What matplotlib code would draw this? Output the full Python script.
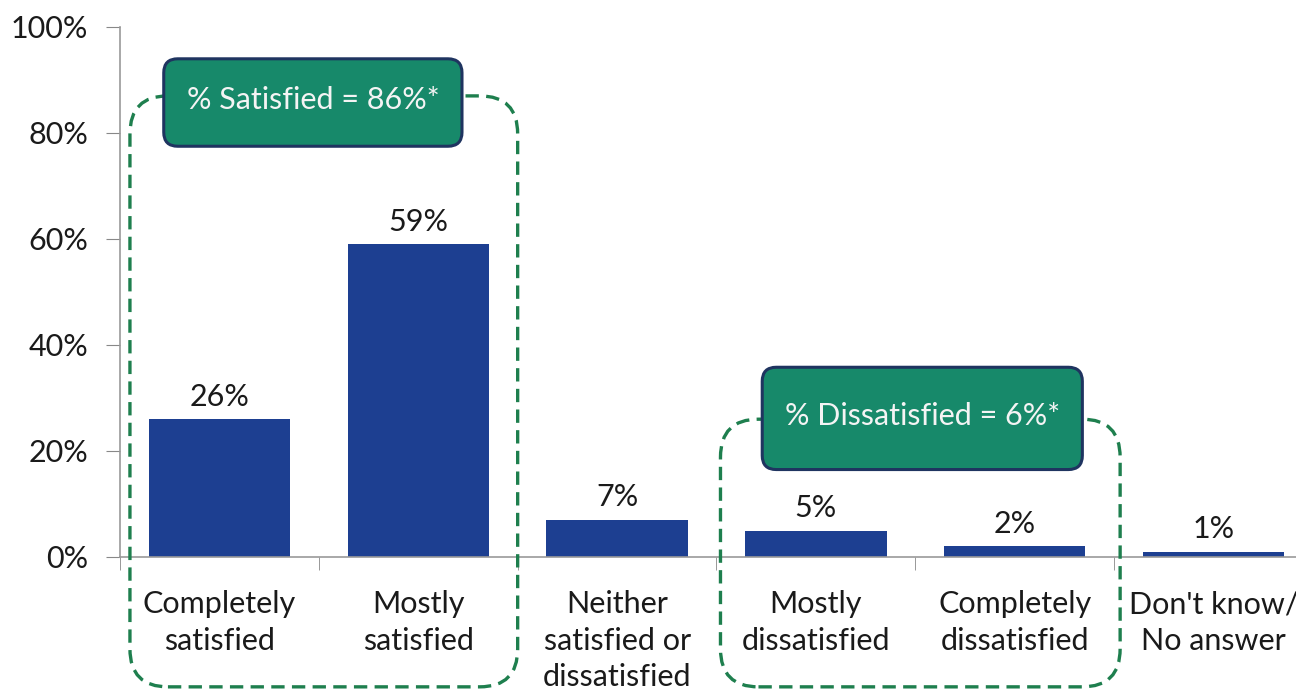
import matplotlib
matplotlib.use("Agg")
import matplotlib.pyplot as plt
from matplotlib.patches import FancyBboxPatch
from matplotlib.ticker import FixedLocator, NullFormatter

categories = ["Completely\nsatisfied", "Mostly\nsatisfied", "Neither\nsatisfied or\ndissatisfied",
              "Mostly\ndissatisfied", "Completely\ndissatisfied", "Don't know/\nNo answer"]
values = [26, 59, 7, 5, 2, 1]
value_labels = ["26%", "59%", "7%", "5%", "2%", "1%"]
yticks = [0, 20, 40, 60, 80, 100]
ytick_labels = ["0%", "20%", "40%", "60%", "80%", "100%"]
group_labels = ["% Satisfied = 86%*", "% Dissatisfied = 6%*"]

plt.rcParams['font.family'] = ['Lato', 'DejaVu Sans']

W, H = 1296, 694
fig = plt.figure(figsize=(W / 100, H / 100), dpi=100)
fig.patch.set_facecolor("white")
ax = fig.add_axes([120 / W, (H - 557) / H, 1193 / W, 530 / H])

x = list(range(len(categories)))
bar_color = "#1D3F91"
txt = "#1A1A1A"
ax.bar(x, values, width=0.71, color=bar_color, zorder=2)
ax.set_xlim(-0.5, len(categories) - 0.5)
ax.set_ylim(0, 100)

for xi, v, lab in zip(x, values, value_labels):
    ax.text(xi, v + 1.6, lab, ha="center", va="bottom", fontsize=22, color=txt)

ax.set_yticks(yticks)
ax.set_yticklabels(ytick_labels, fontsize=22, color=txt)
ax.set_xticks(x)
ax.set_xticklabels(categories, fontsize=22, color=txt, linespacing=1.36)
ax.tick_params(axis="x", length=0, pad=24)
ax.xaxis.set_minor_locator(FixedLocator([i - 0.5 for i in range(len(categories) + 1)]))
ax.xaxis.set_minor_formatter(NullFormatter())
ax.tick_params(axis="x", which="minor", length=9, color="#888888", direction="out")
ax.tick_params(axis="y", length=10, color="#888888", pad=13, direction="out")
for s in ["top", "right"]:
    ax.spines[s].set_visible(False)
for s in ["left", "bottom"]:
    ax.spines[s].set_color("#999999")
    ax.spines[s].set_linewidth(1.2)

fig.canvas.draw()

def to_px(xd, yd):
    return ax.transData.transform((xd, yd))

def rounded(x0, y0, x1, y1, r, **kw):
    (px0, py0) = to_px(x0, y0)
    (px1, py1) = to_px(x1, y1)
    p = FancyBboxPatch((px0, py0), px1 - px0, py1 - py0,
                       boxstyle=f"round,pad=0,rounding_size={r}",
                       transform=None, clip_on=False, **kw)
    ax.add_patch(p)
    return p

dash_color = "#1E7F4E"
# dashed group outlines
rounded(-0.45, -24.5, 1.5, 87, 38, fill=False, edgecolor=dash_color,
        linewidth=2.4, linestyle=(0, (4, 2.2)), zorder=5)
rounded(2.52, -24.5, 4.53, 26, 38, fill=False, edgecolor=dash_color,
        linewidth=2.4, linestyle=(0, (4, 2.2)), zorder=5)

box_face = "#17896A"
box_edge = "#1F3460"
boxes = [(-0.28, 1.22, 77.5, 94), (2.73, 4.34, 16.5, 35.8)]
for (x0, x1, y0, y1), lab in zip(boxes, group_labels):
    rounded(x0, y0, x1, y1, 14, facecolor=box_face, edgecolor=box_edge,
            linewidth=2.2, zorder=6)
    ax.text((x0 + x1) / 2, (y0 + y1) / 2 + 0.5, lab, ha="center", va="center",
            fontsize=22, color="#F4F4F4", zorder=7, clip_on=False)

fig.savefig("out.png", dpi=100)
